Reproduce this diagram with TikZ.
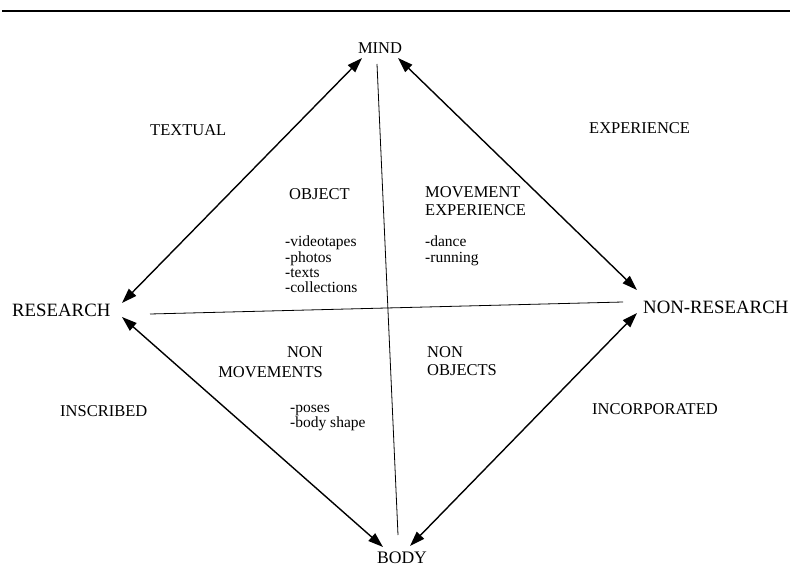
\documentclass[tikz,border=0pt]{standalone}
\usepackage{fontspec}
\setmainfont{Liberation Serif}
\usetikzlibrary{arrows.meta}
\begin{document}
\begin{tikzpicture}[x=1pt,y=-1pt,font=\fontsize{16.5}{18}\selectfont,line join=round,>={Triangle[length=15pt,width=10pt]}]
	\tikzset{every node/.style={inner sep=0pt},pole/.style={font=\fontsize{18.8}{20}\selectfont},
		lbl/.style={align=left,font=\fontsize{16.5}{18}\selectfont},
		items/.style={align=left,anchor=north west,font=\fontsize{15.5}{15.3}\selectfont},
		link/.style={<->,line width=1.4pt}}
	\useasboundingbox (0,0) rectangle (790,567);
	\draw[line width=2.4pt] (2,11)--(790,11);
	\node[anchor=base] (mind) at (380,54) {MIND};
	\node[pole,anchor=base west] (research) at (12,316) {RESEARCH};
	\node[pole,anchor=base west] (nonresearch) at (643,313) {NON-RESEARCH};
	\node[anchor=base,font=\fontsize{17.6}{19}\selectfont] (body) at (402,563) {BODY};
	\node[anchor=base west] (textual) at (150,136) {TEXTUAL};
	\node[anchor=base west] (experience) at (589,134) {EXPERIENCE};
	\node[anchor=base west] (inscribed) at (60,416) {INSCRIBED};
	\node[anchor=base west] (incorporated) at (592,414) {INCORPORATED};
	\node[anchor=base west] (object) at (289,199) {OBJECT};
	\node[lbl,anchor=north west] (movexp) at (425,186) {MOVEMENT\\EXPERIENCE};
	\node[lbl,align=right,anchor=north east,font=\fontsize{16.5}{20}\selectfont] (nonmov) at (323,346) {NON\\MOVEMENTS};
	\node[lbl,anchor=north west] (nonobj) at (427,346) {NON\\OBJECTS};
	\node[items] (objlist) at (285,236) {-videotapes\\-photos\\-texts\\-collections};
	\node[items] (movlist) at (425,236) {-dance\\-running};
	\node[items] (poselist) at (290,405) {-poses\\-body shape};
	\coordinate (m1) at (362,58);
	\coordinate (m2) at (398,58);
	\coordinate (r1) at (122,303);
	\coordinate (r2) at (122,317);
	\coordinate (n1) at (637,290);
	\coordinate (n2) at (637,313);
	\coordinate (b1) at (383,547);
	\coordinate (b2) at (410,546);
	\coordinate (v1) at (377,64);
	\coordinate (v2) at (398,535);
	\coordinate (h1) at (150,314);
	\coordinate (h2) at (623,302);
	\draw[link] (m1)--(r1);
	\draw[link] (m2)--(n1);
	\draw[link] (r2)--(b1);
	\draw[link] (n2)--(b2);
	\draw[line width=0.8pt] (v1)--(v2);
	\draw[line width=0.8pt] (h1)--(h2);
\end{tikzpicture}
\end{document}
